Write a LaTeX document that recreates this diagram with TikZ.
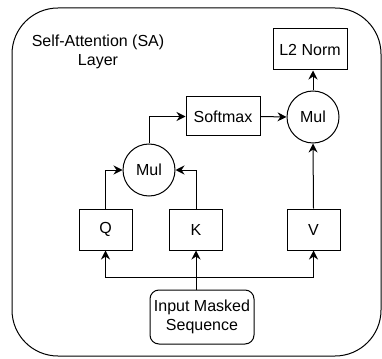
\documentclass[tikz,border=0pt]{standalone}
\usepackage{fontspec}
\setmainfont{Liberation Sans}
\usepackage{tikz}
\usetikzlibrary{shapes,positioning,arrows.meta}

\begin{document}
\begin{tikzpicture}[x=1pt,y=-1pt,line width=1pt,
  font=\fontsize{16}{19}\selectfont,
  op/.style={draw,minimum height=41pt,minimum width=53pt,inner sep=0pt},
  mulnode/.style={draw,circle,minimum size=52pt,inner sep=0pt},
  flow/.style={-{Stealth[length=9pt,width=9pt,inset=3pt]}}]
  \useasboundingbox (0,0) rectangle (382,358);
  \draw[rounded corners=46pt] (12,8) rectangle (381,356);
  \node[align=center](title) at (98,52) {Self-Attention (SA)\\Layer};

  \node[op,minimum width=74pt](l2) at (310,49.5) {L2 Norm};
  \node[mulnode](mul2) at (313,117) {Mul};
  \node[op,minimum width=74pt,minimum height=39pt](softmax) at (223,116.5) {Softmax};
  \node[mulnode](mul1) at (149,170) {Mul};

  \node[op](q) at (105.5,229.5) {Q};
  \node[op](k) at (196,229.5) {K};
  \node[op](v) at (313.5,229.5) {V};
  \node[draw,rounded corners=9pt,align=center,minimum width=104pt,minimum height=54pt,inner sep=0pt](input) at (202,317) {Input Masked\\Sequence};
  \coordinate (split) at (196,277);

  \draw[flow] (k |- input.north) -- (k.south);
  \draw[flow] (split) -| (q.south);
  \draw[flow] (split) -| (v.south);
  \draw[flow] (q.north) |- (mul1.west);
  \draw[flow] (k.north) |- (mul1.east);
  \draw[flow] (mul1.north) |- (softmax.west);
  \draw[flow] (softmax.east) -- (mul2.west);
  \draw[flow] (v.north) -- (mul2.south);
  \draw[flow] (mul2.north) -- (mul2 |- l2.south);
\end{tikzpicture}
\end{document}
